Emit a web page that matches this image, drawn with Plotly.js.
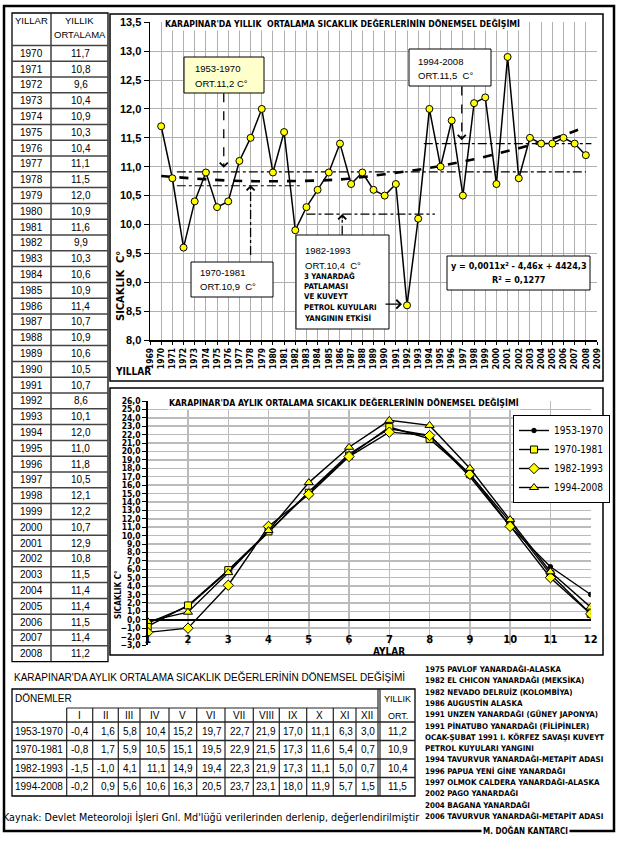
<!DOCTYPE html>
<html><head><meta charset="utf-8">
<script src="https://cdn.plot.ly/plotly-3.0.1.min.js"></script>
<style>html,body{margin:0;padding:0;background:#fff;}#chart{width:623px;height:845px;}</style>
</head><body><div id="chart"></div>
<script>
// ---------------- DATA ----------------
const years = [1970,1971,1972,1973,1974,1975,1976,1977,1978,1979,1980,1981,1982,1983,1984,1985,1986,1987,1988,1989,1990,1991,1992,1993,1994,1995,1996,1997,1998,1999,2000,2001,2002,2003,2004,2005,2006,2007,2008];
const annualMeans = [11.7,10.8,9.6,10.4,10.9,10.3,10.4,11.1,11.5,12.0,10.9,11.6,9.9,10.3,10.6,10.9,11.4,10.7,10.9,10.6,10.5,10.7,8.6,10.1,12.0,11.0,11.8,10.5,12.1,12.2,10.7,12.9,10.8,11.5,11.4,11.4,11.5,11.4,11.2];
// polynomial trend line
const trendYears = [1970,1976,1981,1986,1990,1994,1998,2002,2005,2008];
const trendValues = [10.84,10.76,10.75,10.78,10.87,10.98,11.13,11.32,11.48,11.69];
// period mean lines (dash-dot)
const periodLineStart = [1971.4,1971.4,1983.0,1993.5];
const periodLineEnd   = [2008.0,1982.6,1994.5,2008.5];
const periodLineLevel = [10.91,10.67,10.18,11.40];

const months = [1,2,3,4,5,6,7,8,9,10,11,12];
const monthRoman = ['I','II','III','IV','V','VI','VII','VIII','IX','X','XI','XII'];
const periods = ['1953-1970','1970-1981','1982-1993','1994-2008'];
const p1953_1970 = [-0.4,1.6,5.8,10.4,15.2,19.7,22.7,21.9,17.0,11.1,6.3,3.0];
const p1970_1981 = [-0.8,1.7,5.9,10.5,15.1,19.5,22.9,21.5,17.3,11.6,5.4,0.7];
const p1982_1993 = [-1.5,-1.0,4.1,11.1,14.9,19.4,22.3,21.9,17.3,11.1,5.0,0.7];
const p1994_2008 = [-0.2,0.9,5.6,10.6,16.3,20.5,23.7,23.1,18.0,11.9,5.7,1.5];
const periodAnnual = [11.2,10.9,10.4,11.5];

const volcanoes = [
 '1975 PAVLOF YANARDAĞI-ALASKA',
 '1982 EL CHICON YANARDAĞI (MEKSİKA)',
 '1982 NEVADO DELRUİZ (KOLOMBİYA)',
 '1986 AUGUSTİN ALASKA',
 '1991 UNZEN YANARDAĞI (GÜNEY JAPONYA)',
 '1991 PİNATUBO YANARDAĞI (FİLİPİNLER)',
 'OCAK-ŞUBAT 1991 I. KÖRFEZ SAVAŞI KUVEYT',
 'PETROL KUYULARI YANGINI',
 '1994 TAVURVUR YANARDAĞI-METAPİT ADASI',
 '1996 PAPUA YENİ GİNE YANARDAĞI',
 '1997 OLMOK CALDERA YANARDAĞI-ALASKA',
 '2002 PAGO YANARDAĞI',
 '2004 BAGANA YANARDAĞI',
 '2006 TAVURVUR YANARDAĞI-METAPİT ADASI'
];

// ---------------- HELPERS ----------------
const W = 623, H = 845;
const px = v => v / W;
const py = v => 1 - v / H;
const NARROW = 'Liberation Sans Narrow, DejaVu Sans Condensed, Arial Narrow, sans-serif';
const ARIAL = 'Liberation Sans, Arial, sans-serif';
const fmt = v => v.toFixed(1).replace('.', ',');

const shapes = [];
const annotations = [];
function line(x0, y0, x1, y1, w, c, dash) {
  shapes.push({type:'line', xref:'paper', yref:'paper', x0:px(x0), y0:py(y0), x1:px(x1), y1:py(y1),
    line:{color:c||'#000', width:w||1, dash:dash||'solid'}});
}
function rect(x0, y0, x1, y1, w, fill) {
  shapes.push({type:'rect', xref:'paper', yref:'paper', x0:px(x0), y0:py(y0), x1:px(x1), y1:py(y1),
    line:{color:'#000', width:w||1}, fillcolor:fill||'rgba(0,0,0,0)', layer:'above'});
}
function txt(t, x, y, size, family, opts) {
  opts = opts || {};
  annotations.push(Object.assign({text:t, xref:'paper', yref:'paper', x:px(x), y:py(y), showarrow:false,
    xanchor:opts.xa||'left', yanchor:'middle', align:opts.align||'left',
    font:{family:family, size:size, color:'#000', weight:opts.bold?'bold':'normal'}}, opts.extra||{}));
}

// ---------------- TRACES ----------------
const traces = [];
const plx = [], ply = [];
for (let i = 0; i < periodLineLevel.length; i++) {
  plx.push(periodLineStart[i], periodLineEnd[i], null);
  ply.push(periodLineLevel[i], periodLineLevel[i], null);
}
traces.push({x:plx, y:ply, xaxis:'x', yaxis:'y', mode:'lines', showlegend:false, hoverinfo:'skip',
  line:{color:'#000', width:1.2, dash:'dashdot'}});
traces.push({x:trendYears, y:trendValues, xaxis:'x', yaxis:'y', mode:'lines', showlegend:false,
  line:{color:'#000', width:2.6, dash:'dash', shape:'spline'}});
traces.push({x:years, y:annualMeans, xaxis:'x', yaxis:'y', mode:'lines+markers', showlegend:false,
  line:{color:'#000', width:1.5}, marker:{size:7, color:'#ffff00', line:{color:'#000', width:1}}});

const monthlySeries = [p1953_1970, p1970_1981, p1982_1993, p1994_2008];
const markerDefs = [
  {symbol:'circle', size:4.5, color:'#000', line:{color:'#000', width:1}},
  {symbol:'square', size:7, color:'#ffff00', line:{color:'#000', width:1}},
  {symbol:'diamond', size:8, color:'#ffff00', line:{color:'#000', width:1}},
  {symbol:'triangle-up', size:8, color:'#ffff00', line:{color:'#000', width:1}}
];
monthlySeries.forEach((s, i) => {
  traces.push({x:months, y:s, xaxis:'x2', yaxis:'y2', mode:'lines+markers', name:periods[i],
    legendgroup:'g'+i, line:{color:'#000', width:1.4}, marker:markerDefs[i]});
});

// ---------------- FRAMES ----------------
rect(4, 6, 614, 831, 2.5);
rect(110, 14, 603, 381, 1.5);
rect(110, 388, 603, 655, 1.5);

// ---------------- LEFT TABLE ----------------
const tX0 = 12, tX1 = 108, tXm = 51, tY0 = 13, tHead = 45.4, rowH = 15.8;
rect(tX0, tY0, tX1, tHead + years.length * rowH, 1.3);
line(tXm, tY0, tXm, tHead + years.length * rowH, 1.3, '#222');
for (let i = 0; i < years.length; i++) {
  line(tX0, tHead + i * rowH, tX1, tHead + i * rowH, 1.5, '#444');
}
txt('YILLAR', (tX0 + tXm) / 2, 20, 9.5, ARIAL, {xa:'center'});
txt('YILLIK', (tXm + tX1) / 2, 20, 9.5, ARIAL, {xa:'center'});
txt('ORTALAMA', (tXm + tX1) / 2, 35, 9.5, ARIAL, {xa:'center'});
years.forEach((yr, i) => {
  const yc = tHead + (i + 0.5) * rowH;
  txt(String(yr), (tX0 + tXm) / 2, yc, 10, ARIAL, {xa:'center'});
  txt(fmt(annualMeans[i]), (tXm + tX1) / 2 + 1, yc, 10, ARIAL, {xa:'center'});
});

// ---------------- BOTTOM TABLE ----------------
const colX = [12,66.7,92.7,118.3,140,169,196.7,225,253.3,279.3,306.7,333.3,356,378,380,415];
const bT = 689, bH1 = 708, bH2 = 722, bRow = 18.5;
const bB = bH2 + periods.length * bRow;
rect(12, bT, 415, bB, 1.3);
for (let j = 1; j <= 12; j++) line(colX[j], bH1, colX[j], bB, 1.2, '#222');
line(378, bT, 378, bB, 1.2, '#222');
line(380, bT, 380, bB, 1.2, '#222');
line(66.7, bH1, 378, bH1, 1.2, '#222');
for (let r = 0; r < periods.length; r++) line(12, bH2 + r * bRow, 415, bH2 + r * bRow, 1.3, '#222');
txt("KARAPINAR'DA AYLIK ORTALAMA SICAKLIK DEĞERLERİNİN DÖNEMSEL DEĞİŞİMİ", 12, 677, 10, ARIAL);
txt('DÖNEMLER', 13, 698.5, 10, ARIAL);
txt('YILLIK', 397.5, 698.5, 9, ARIAL, {xa:'center'});
txt('ORT.', 397.5, 715.5, 9, ARIAL, {xa:'center'});
monthRoman.forEach((m, j) => txt(m, (colX[j + 1] + colX[j + 2]) / 2, 715.5, 10, ARIAL, {xa:'center'}));
monthlySeries.forEach((s, r) => {
  const yc = bH2 + (r + 0.5) * bRow;
  txt(periods[r], 13, yc, 10, ARIAL);
  s.forEach((v, j) => txt(fmt(v), colX[j + 2] - 1.5, yc, 10, ARIAL, {xa:'right'}));
  txt(fmt(periodAnnual[r]), 397.5, yc, 10, ARIAL, {xa:'center'});
});
txt("Kaynak: Devlet Meteoroloji İşleri Gnl. Md'lüğü verilerinden derlenip, değerlendirilmiştir", 1, 817, 10.7, NARROW);

// ---------------- VOLCANO LIST ----------------
volcanoes.forEach((v, i) => txt(v, 423, 669 + i * 11.3, 7.9, NARROW, {bold:true}));
txt('M. DOĞAN KANTARCI', 525, 830.5, 8, NARROW, {xa:'center', bold:true, extra:{bgcolor:'#fff', borderpad:1}});

// ---------------- TOP CHART DECORATION ----------------
txt("KARAPINAR'DA YILLIK  ORTALAMA SICAKLIK DEĞERLERİNİN DÖNEMSEL DEĞİŞİMİ", 342, 24, 8.7, NARROW,
  {xa:'center', bold:true, extra:{bgcolor:'#fff', borderpad:1}});
txt('SICAKLIK  C°', 120, 286, 11, NARROW, {xa:'center', bold:true, extra:{textangle:-90}});
txt('YILLAR', 113, 372, 10, NARROW, {bold:true});

rect(184, 57, 264, 93, 1, '#ffffcc');
txt('1953-1970', 193, 68, 9.5, ARIAL);
txt('ORT.11,2 C°', 193, 83, 9.5, ARIAL);
rect(409, 49, 491, 86, 1, '#fff');
txt('1994-2008', 416, 62, 9.5, ARIAL);
txt('ORT.11,5  C°', 416, 75, 9.5, ARIAL);
rect(191, 262, 273, 297, 1, '#fff');
txt('1970-1981', 198, 273, 9.5, ARIAL);
txt('ORT.10,9  C°', 198, 286, 9.5, ARIAL);
rect(296, 235, 389, 329, 1, '#fff');
txt('1982-1993', 303, 251, 9.5, ARIAL);
txt('ORT.10,4  C°', 303, 265, 9.5, ARIAL);
['3 YANARDAĞ','PATLAMASI','VE KUVEYT','PETROL KUYULARI','YANGININ ETKİSİ'].forEach((t, i) =>
  txt(t, 302, 276 + i * 10.4, 7.8, NARROW, {bold:true}));
rect(447, 256, 590, 290, 1, '#fff');
txt('y = 0,0011x² - 4,46x + 4424,3', 518.5, 266, 9, NARROW, {xa:'center', bold:true});
txt('R² = 0,1277', 518.5, 280, 9, NARROW, {xa:'center', bold:true});

const arrowShafts = [
  {x:1975.6, y0:12.27, y1:11.02, dash:'dash', dir:-1},
  {x:1978.0, y0:9.47, y1:10.64, dash:'dashdot', dir:1},
  {x:1986.2, y0:9.82, y1:10.14, dash:'dashdot', dir:1},
  {x:1996.9, y0:12.39, y1:11.50, dash:'dash', dir:-1}
];
arrowShafts.forEach(a => {
  shapes.push({type:'line', xref:'x', yref:'y', x0:a.x, x1:a.x, y0:a.y0, y1:a.y1, layer:'above',
    line:{color:'#000', width:1.3, dash:a.dash}});
  annotations.push({xref:'x', yref:'y', x:a.x, y:a.y1 + (a.dir > 0 ? 0.04 : -0.04), text:'', showarrow:true,
    ax:0, ay:a.dir > 0 ? 6 : -6, arrowhead:4, arrowsize:1.3, arrowwidth:1.2, arrowcolor:'#000', standoff:0});
});
annotations.push({xref:'x', yref:'y', x:1991.55, y:8.62, text:'', showarrow:true, ax:-18, ay:0,
  arrowhead:4, arrowsize:1.3, arrowwidth:1.3, arrowcolor:'#000', standoff:0});

// ---------------- BOTTOM CHART DECORATION ----------------
txt("KARAPINAR'DA AYLIK ORTALAMA SICAKLIK DEĞERLERİNİN DÖNEMSEL DEĞİŞİMİ", 344, 402, 8.7, NARROW,
  {xa:'center', bold:true, extra:{bgcolor:'#fff', borderpad:1}});
txt('SICAKLIK C°', 118, 595, 8, NARROW, {xa:'center', bold:true, extra:{textangle:-90}});
txt('AYLAR', 389, 651.5, 10, NARROW, {xa:'center', bold:true});

// ---------------- AXES ----------------
const yearTicks = [];
for (let y = years[0] - 1; y <= years[years.length - 1] + 1; y++) yearTicks.push(y);

const layout = {
  width: W, height: H, autosize:false,
  margin:{l:0, r:0, t:0, b:0, pad:0},
  paper_bgcolor:'#fff', plot_bgcolor:'#fff',
  separators:',.',
  showlegend:true,
  xaxis:{domain:[px(150), px(597)], range:[yearTicks[0], yearTicks[yearTicks.length - 1]], anchor:'y',
    tickmode:'array', tickvals:yearTicks, ticktext:yearTicks.map(String), tickangle:-90,
    tickfont:{family:NARROW, size:8.5, color:'#000', weight:'bold'},
    showgrid:true, gridcolor:'#b0b0b0', gridwidth:1, showline:true, linecolor:'#000', linewidth:1.5,
    ticks:'outside', ticklen:3, tickcolor:'#000', zeroline:false, fixedrange:true, automargin:false},
  yaxis:{domain:[py(340), py(22.3)], range:[8, 13.5], anchor:'x', tick0:8, dtick:0.5, tickformat:'.1f',
    tickfont:{family:ARIAL, size:11, color:'#000', weight:'bold'},
    showgrid:true, gridcolor:'#b0b0b0', gridwidth:1, showline:true, linecolor:'#000', linewidth:1.5,
    ticks:'outside', ticklen:5, tickcolor:'#000', zeroline:false, fixedrange:true, automargin:false},
  xaxis2:{domain:[px(147.7), px(590.7)], range:[1, 12], anchor:'free', position:py(631),
    tickmode:'array', tickvals:months, ticktext:months.map(String),
    tickfont:{family:NARROW, size:11, color:'#000', weight:'bold'},
    showgrid:true, gridcolor:'#bbbbbb', gridwidth:1.5, showline:false, ticks:'', zeroline:false,
    fixedrange:true, automargin:false},
  yaxis2:{domain:[py(645), py(401)], range:[-3, 26], anchor:'x2', tick0:-3, dtick:1, tickformat:'.1f',
    tickfont:{family:NARROW, size:8.5, color:'#000', weight:'bold'},
    showgrid:true, gridcolor:'#bbbbbb', gridwidth:1.5, showline:true, linecolor:'#000', linewidth:1.5,
    ticks:'outside', ticklen:4, tickcolor:'#000', zeroline:true, zerolinecolor:'#000', zerolinewidth:1.8,
    fixedrange:true, automargin:false},
  legend:{x:px(513), y:py(415), xanchor:'left', yanchor:'top', bgcolor:'#fff', bordercolor:'#000', borderwidth:1,
    font:{family:NARROW, size:10, color:'#000'}, tracegroupgap:7, itemwidth:30, traceorder:'normal'},
  shapes: shapes,
  annotations: annotations
};

Plotly.newPlot('chart', traces, layout, {displayModeBar:false, staticPlot:true});
</script>
</body></html>
